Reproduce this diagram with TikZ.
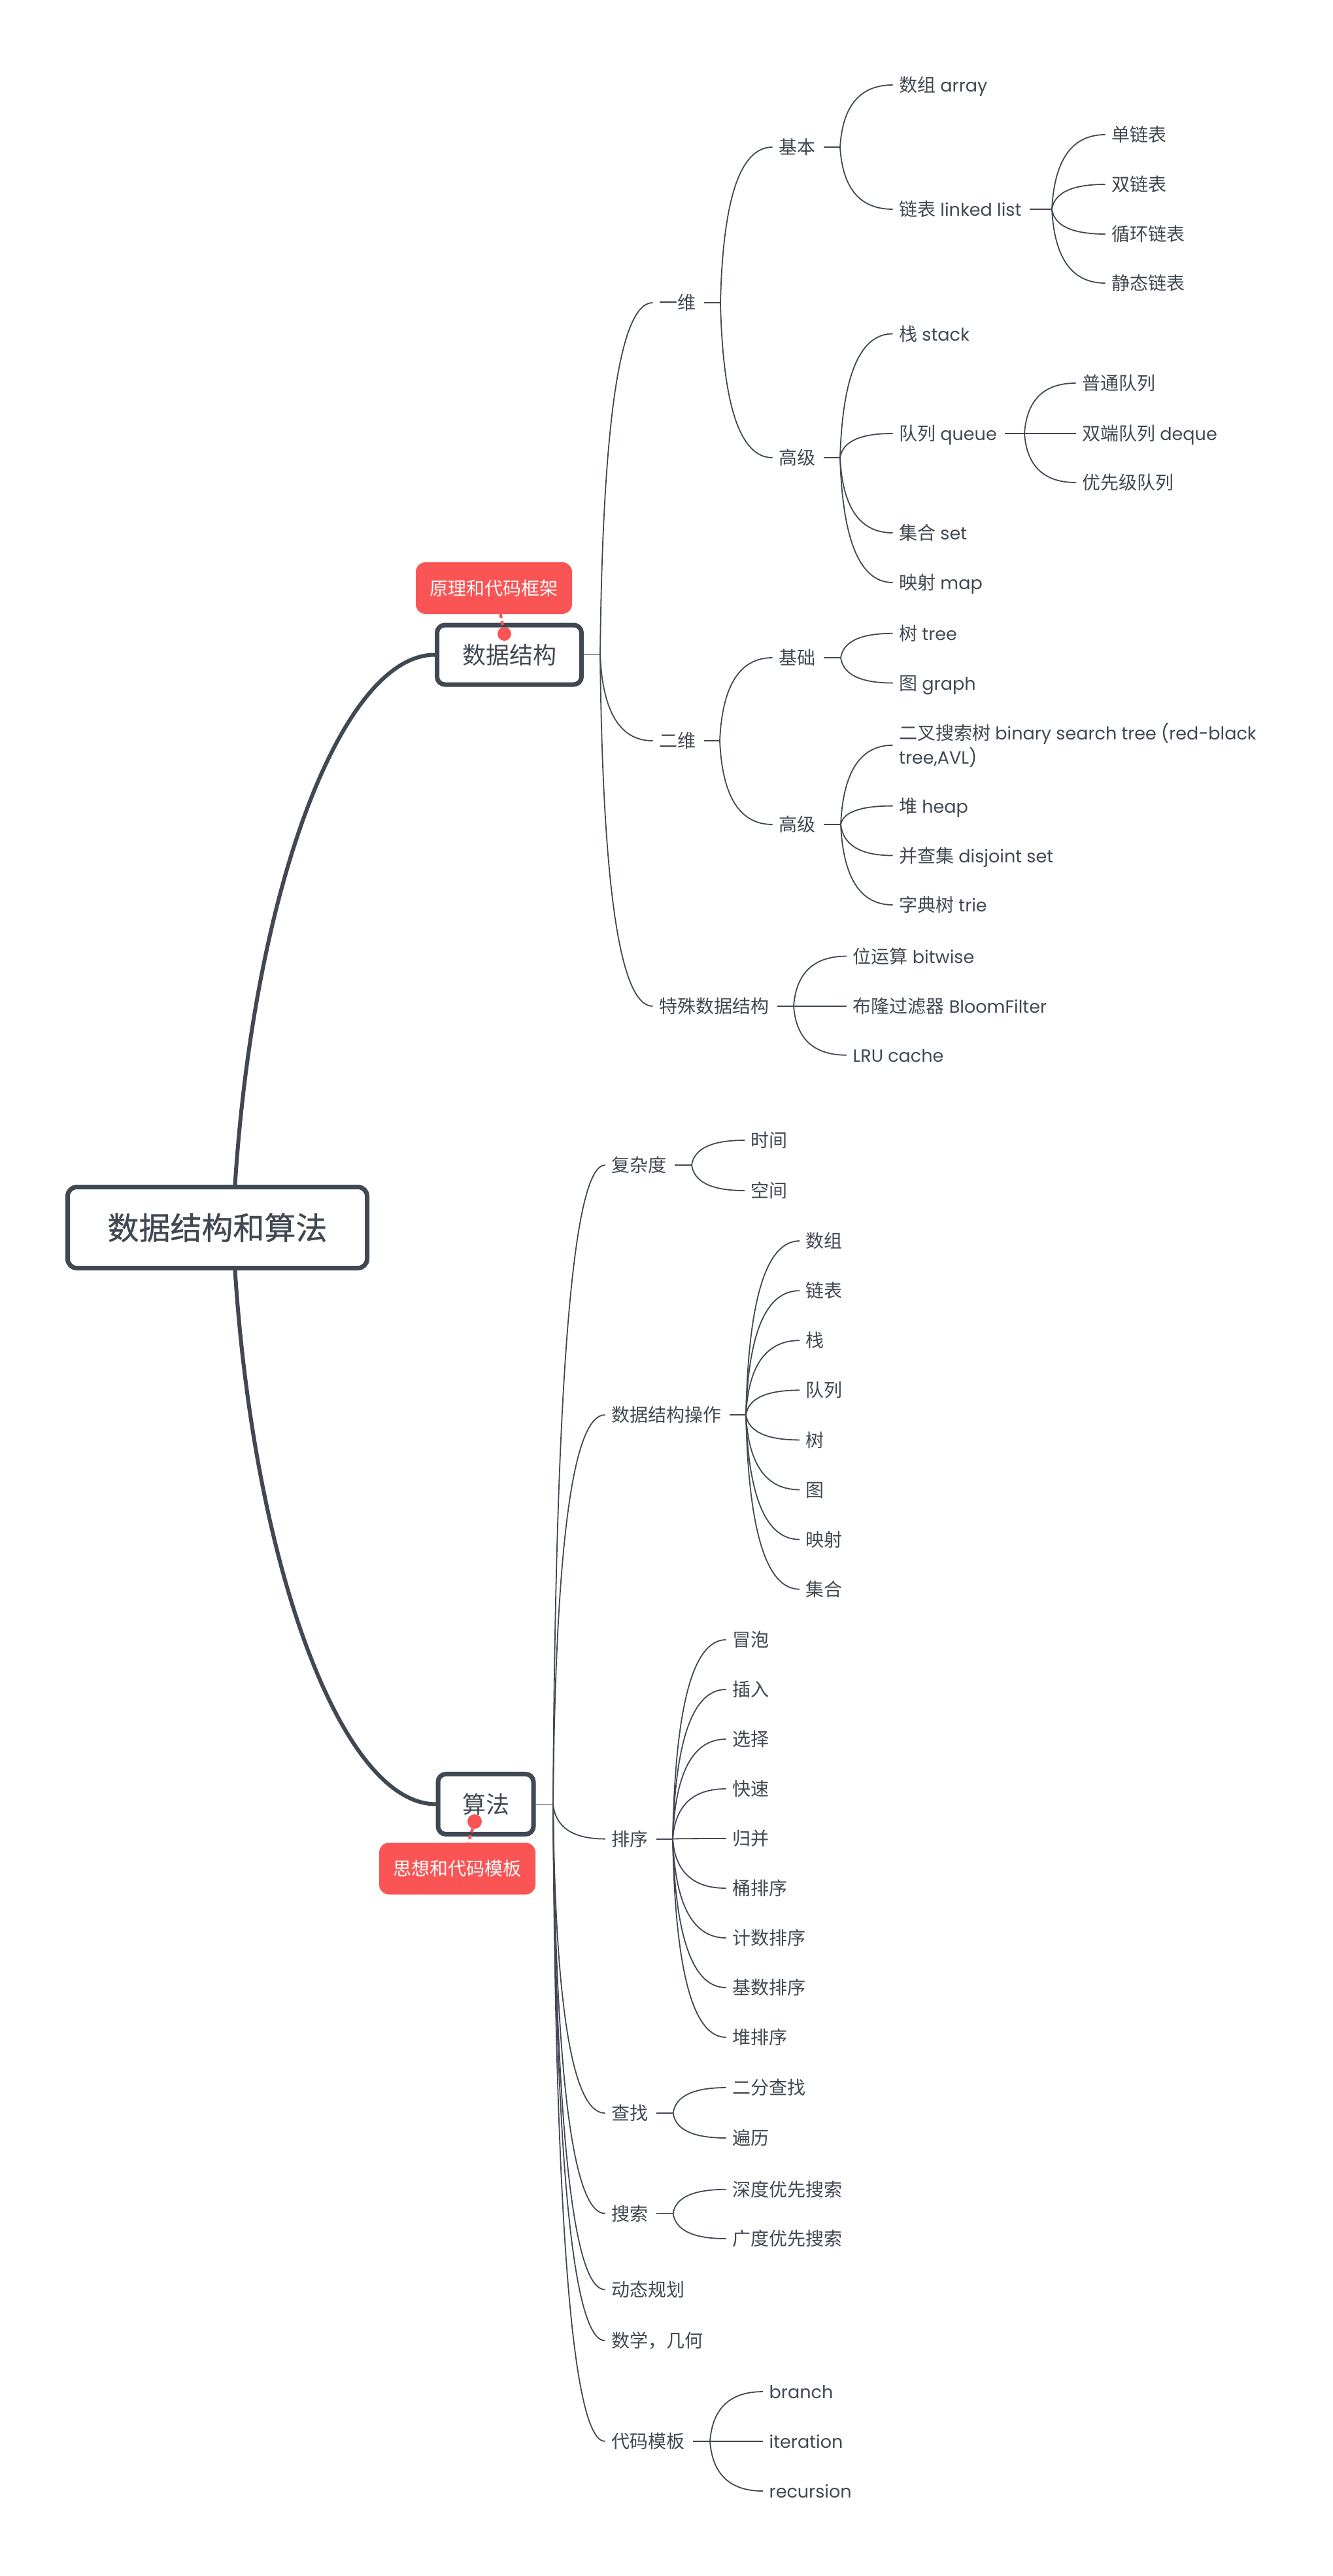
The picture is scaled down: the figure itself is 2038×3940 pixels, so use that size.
\documentclass[tikz,border=0pt]{standalone}
\usepackage{fontspec}
\setmainfont{Poppins}[Scale=0.965]
\newfontfamily\zhfont{Noto Sans CJK SC}
\newfontfamily\zhheavy{Noto Sans CJK SC}[FakeBold=0.8]
\usetikzlibrary{calc}
\definecolor{ink}{RGB}{64,72,82}
\definecolor{tagred}{RGB}{250,84,84}
\newcommand\zhs[1]{{\zhfont #1}}

\begin{document}
\begin{tikzpicture}[x=1pt,y=-1pt,
  leafbase/.style={inner xsep=9.5pt, inner ysep=0pt, text=ink, font=\fontsize{28}{34}\selectfont},
  leaf/.style={leafbase, anchor=west, text height=21.3pt, text depth=0pt},
  cn/.style={leaf, font=\zhfont\fontsize{28}{34}\selectfont},
  mainbox/.style={draw=ink, line width=7pt, rounded corners=12pt, fill=white, text=ink,
                  inner sep=0pt, font=\zhfont\fontsize{36}{42}\selectfont},
  rootbox/.style={mainbox, rounded corners=14pt, font=\zhheavy\fontsize{48}{56}\selectfont},
  tag/.style={fill=tagred, rounded corners=15pt, text=white, inner sep=0pt,
              minimum width=239pt, minimum height=79pt, font=\zhfont\fontsize{28}{34}\selectfont},
  tagdot/.style={circle, fill=tagred, inner sep=0pt},
  tagline/.style={draw=tagred, line width=4.5pt, dash pattern=on 6pt off 5pt},
  trunk/.style={draw=ink, line width=6pt, line cap=round},
  stem/.style={draw=ink, line width=1.8pt},
  link/.style={stem, to path={let \p1=(\tikztostart), \p2=(\tikztotarget) in
      .. controls (\x1+0.0467*\x2-0.0467*\x1, \y1/3+2*\y2/3)
             and (0.38*\x2+0.62*\x1, \y2) .. (\tikztotarget)}}
]
\fill[white] (0,0) rectangle (2038,3940);
\useasboundingbox (0,0) rectangle (2038,3940);

% ---------- central topic and main topics ----------
\node[rootbox, minimum width=458pt, minimum height=124pt] (root) at (332.5,1877.5) {数据结构和算法};
\node[mainbox, minimum width=221pt, minimum height=91pt] (ds) at (779,1001.5) {数据结构};
\node[mainbox, minimum width=146pt, minimum height=92pt] (alg) at (743,2759.4) {算法};

\draw[trunk] ([xshift=27pt]root.north) .. controls (389.5,1350) and (525,1001.5) .. (ds.west);
\draw[trunk] ([xshift=27pt]root.south) .. controls (389.5,2405) and (525,2759.4) .. (alg.west);

% ---------- tags ----------
\node[tag] (tag1) at (755.5,899.5) {原理和代码框架};
\node[tagdot, minimum size=21pt] (dot1) at (771.5,969.5) {};
\draw[tagline] ([xshift=10pt]tag1.south) -- (dot1.center);

\node[tag] (tag2) at (699.5,2858) {思想和代码模板};
\node[tagdot, minimum size=22pt] (dot2) at (726,2786) {};
\draw[tagline] (dot2.center) -- ([xshift=17pt]tag2.north);

% ---------- 数据结构 ----------
\coordinate (b-ds) at (918,1001.5);
\draw[stem] (ds.east) -- (b-ds);

\node[cn] (d1) at (998.5,463) {一维};
\node[cn] (d2) at (998.5,1133) {二维};
\node[cn] (d3) at (998.5,1539) {特殊数据结构};
\foreach \nd in {d1,d2,d3} \draw[link] (b-ds) to (\nd.west);

\coordinate (b-d1) at (1102,463);
\draw[stem] ([xshift=3pt]d1.east) -- (b-d1);
\node[cn] (d11) at (1181.5,225) {基本};
\node[cn] (d12) at (1181.5,700) {高级};
\foreach \nd in {d11,d12} \draw[link] (b-d1) to (\nd.west);

\coordinate (b-d11) at (1285,225);
\draw[stem] ([xshift=3pt]d11.east) -- (b-d11);
\node[leaf] (d111) at (1365.5,130) {\zhs{数组} array};
\node[leaf] (d112) at (1365.5,320) {\zhs{链表} linked list};
\foreach \nd in {d111,d112} \draw[link] (b-d11) to (\nd.west);

\coordinate (b-d112) at (1609,320);
\draw[stem] ([xshift=3pt]d112.east) -- (b-d112);
\node[cn] (d1121) at (1690.5,206) {单链表};
\node[cn] (d1122) at (1690.5,282) {双链表};
\node[cn] (d1123) at (1690.5,358) {循环链表};
\node[cn] (d1124) at (1690.5,433) {静态链表};
\foreach \nd in {d1121,d1122,d1123,d1124} \draw[link] (b-d112) to (\nd.west);

\coordinate (b-d12) at (1285,700);
\draw[stem] ([xshift=3pt]d12.east) -- (b-d12);
\node[leaf] (d121) at (1365.5,510.5) {\zhs{栈} stack};
\node[leaf] (d122) at (1365.5,663) {\zhs{队列} queue};
\node[leaf] (d123) at (1365.5,815) {\zhs{集合} set};
\node[leaf] (d124) at (1365.5,891) {\zhs{映射} map};
\foreach \nd in {d121,d122,d123,d124} \draw[link] (b-d12) to (\nd.west);

\coordinate (b-d122) at (1567,663);
\draw[stem] ([xshift=3pt]d122.east) -- (b-d122);
\node[cn] (d1221) at (1645.5,586) {普通队列};
\node[leaf] (d1222) at (1645.5,663) {\zhs{双端队列} deque};
\node[cn] (d1223) at (1645.5,738) {优先级队列};
\foreach \nd in {d1221,d1222,d1223} \draw[link] (b-d122) to (\nd.west);

\coordinate (b-d2) at (1101,1133);
\draw[stem] ([xshift=3pt]d2.east) -- (b-d2);
\node[cn] (d21) at (1181.5,1006) {基础};
\node[cn] (d22) at (1181.5,1261) {高级};
\foreach \nd in {d21,d22} \draw[link] (b-d2) to (\nd.west);

\coordinate (b-d21) at (1286,1006);
\draw[stem] ([xshift=3pt]d21.east) -- (b-d21);
\node[leaf] (d211) at (1365.5,968.8) {\zhs{树} tree};
\node[leaf] (d212) at (1365.5,1044.6) {\zhs{图} graph};
\foreach \nd in {d211,d212} \draw[link] (b-d21) to (\nd.west);

\coordinate (b-d22) at (1286,1261);
\draw[stem] ([xshift=3pt]d22.east) -- (b-d22);
% two-line topic: its base anchor sits on the baseline of the second line
\node[leafbase, anchor=base west, align=left, font=\fontsize{28}{36.6}\selectfont] (d221) at (1365.5,1168.2)
  {\zhs{二叉搜索树} binary search tree (red-black\\tree,AVL)};
\node[leaf] (d222) at (1365.5,1232.6) {\zhs{堆} heap};
\node[leaf] (d223) at (1365.5,1308.5) {\zhs{并查集} disjoint set};
\node[leaf] (d224) at (1365.5,1384) {\zhs{字典树} trie};
\foreach \nd in {d221,d222,d223,d224} \draw[link] (b-d22) to (\nd.west);

\coordinate (b-d3) at (1214,1539);
\draw[stem] ([xshift=3pt]d3.east) -- (b-d3);
\node[leaf] (d31) at (1295,1462.5) {\zhs{位运算} bitwise};
\node[leaf] (d32) at (1295,1539) {\zhs{布隆过滤器} BloomFilter};
\node[leaf] (d33) at (1295,1613.8) {LRU cache};
\foreach \nd in {d31,d32,d33} \draw[link] (b-d3) to (\nd.west);

% ---------- 算法 ----------
\coordinate (b-alg) at (846,2759.4);
\draw[stem] (alg.east) -- (b-alg);

\node[cn] (a1) at (925.5,1782) {复杂度};
\node[cn] (a2) at (925.5,2164) {数据结构操作};
\node[cn] (a3) at (925.5,2812.6) {排序};
\node[cn] (a4) at (925.5,3232) {查找};
\node[cn] (a5) at (925.5,3385.5) {搜索};
\node[cn] (a6) at (925.5,3502) {动态规划};
\node[cn] (a7) at (925.5,3580) {数学，几何};
\node[cn] (a8) at (925.5,3734) {代码模板};
\foreach \nd in {a1,a2,a3,a4,a5,a6,a7,a8} \draw[link] (b-alg) to (\nd.west);

\coordinate (b-a1) at (1058,1782);
\draw[stem] ([xshift=3pt]a1.east) -- (b-a1);
\node[cn] (a11) at (1139,1744) {时间};
\node[cn] (a12) at (1139,1821) {空间};
\foreach \nd in {a11,a12} \draw[link] (b-a1) to (\nd.west);

\coordinate (b-a2) at (1141,2164);
\draw[stem] ([xshift=3pt]a2.east) -- (b-a2);
\foreach \t [count=\k] in {数组,链表,栈,队列,树,图,映射,集合} {
  \node[cn] (a2-\k) at (1223,1898+76.1*\k-76.1) {\t};
  \draw[link] (b-a2) to (a2-\k.west);
}

\coordinate (b-a3) at (1029,2812.6);
\draw[stem] ([xshift=3pt]a3.east) -- (b-a3);
\foreach \t [count=\k] in {冒泡,插入,选择,快速,归并,桶排序,计数排序,基数排序,堆排序} {
  \node[cn] (a3-\k) at (1110.5,2508+76*\k-76) {\t};
  \draw[link] (b-a3) to (a3-\k.west);
}

\coordinate (b-a4) at (1029.6,3232);
\draw[stem] ([xshift=3pt]a4.east) -- (b-a4);
\node[cn] (a41) at (1110.5,3193) {二分查找};
\node[cn] (a42) at (1110.5,3270) {遍历};
\foreach \nd in {a41,a42} \draw[link] (b-a4) to (\nd.west);

\coordinate (b-a5) at (1029.6,3385.5);
\draw[stem] ([xshift=3pt]a5.east) -- (b-a5);
\node[cn] (a51) at (1110.5,3348.7) {深度优先搜索};
\node[cn] (a52) at (1110.5,3424) {广度优先搜索};
\foreach \nd in {a51,a52} \draw[link] (b-a5) to (\nd.west);

\coordinate (b-a8) at (1086,3734);
\draw[stem] ([xshift=3pt]a8.east) -- (b-a8);
\node[leaf] (a81) at (1167,3658) {branch};
\node[leaf] (a82) at (1167,3734) {iteration};
\node[leaf] (a83) at (1167,3810) {recursion};
\foreach \nd in {a81,a82,a83} \draw[link] (b-a8) to (\nd.west);
\end{tikzpicture}
\end{document}
